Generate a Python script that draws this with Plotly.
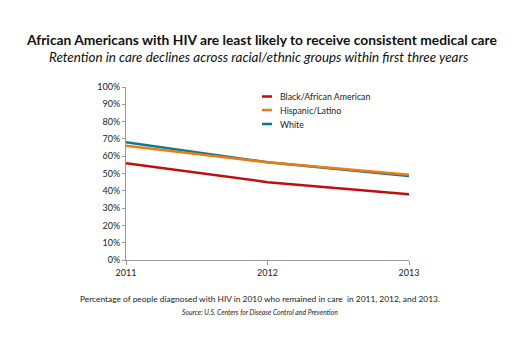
import plotly.graph_objects as go

years = [2011, 2012, 2013]
black = [56, 45, 38]
hispanic = [66, 56.5, 49.3]
white = [68, 56.5, 48.5]
y_ticks = list(range(0, 101, 10))
y_labels = [f"{v}%" for v in y_ticks]
series_names = ["Black/African American", "Hispanic/Latino", "White"]
series_colors = ["#C00D0D", "#F07A12", "#0F7A8C"]

FONT = "Lato"
W, H = 520, 346
L, R, T, B = 126, 111, 87, 86
plot_h = H - T - B
plot_w = W - L - R

def py2paper(py):
    return (H - B - py) / plot_h

def px2paper(px):
    return (px - L) / plot_w

fig = go.Figure()
fig.add_trace(go.Scatter(x=years, y=black, mode="lines", name=series_names[0],
                         line=dict(color=series_colors[0], width=2.5)))
fig.add_trace(go.Scatter(x=years, y=white, mode="lines", name=series_names[2],
                         line=dict(color=series_colors[2], width=2.5)))
fig.add_trace(go.Scatter(x=years, y=hispanic, mode="lines", name=series_names[1],
                         line=dict(color=series_colors[1], width=2.5)))

fig.update_layout(
    width=W, height=H,
    margin=dict(l=L, r=R, t=T, b=B),
    paper_bgcolor="white", plot_bgcolor="white",
    font=dict(family=FONT, size=9, color="#222"),
    showlegend=False,
    xaxis=dict(range=[2011, 2013], tickvals=years, ticktext=[str(y) for y in years],
               showgrid=False, zeroline=False, showline=True, linecolor="#999", linewidth=1,
               ticks="outside", ticklen=4, tickcolor="#999", tickfont=dict(size=9)),
    yaxis=dict(range=[0, 100], tickvals=y_ticks, ticktext=y_labels,
               showgrid=False, zeroline=False, showline=True, linecolor="#999", linewidth=1,
               ticks="outside", ticklen=3, tickcolor="#999", tickfont=dict(size=9)),
)

texts = [
    ("<b>African Americans with HIV are least likely to receive consistent medical care</b>", 261, 40, 13.8, "#111"),
    ("<i>Retention in care declines across racial/ethnic groups within first three years</i>", 259, 57, 13.4, "#111"),
    ("Percentage of people diagnosed with HIV in 2010 who remained in care  in 2011, 2012, and 2013.", 260, 299, 8.4, "#222"),
    ("<i>Source: U.S. Centers for Disease Control and Prevention</i>", 260, 312, 6.8, "#222"),
]
for t, px, py, sz, col in texts:
    fig.add_annotation(text=t, x=px2paper(px), y=py2paper(py), xref="paper", yref="paper",
                       showarrow=False, xanchor="center", yanchor="middle",
                       font=dict(size=sz, family=FONT, color=col))

# manual legend
leg_y = [96.5, 110, 124]
for name, col, ly in zip(series_names, series_colors, leg_y):
    fig.add_shape(type="line", xref="paper", yref="paper",
                  x0=px2paper(262), x1=px2paper(272), y0=py2paper(ly), y1=py2paper(ly),
                  line=dict(color=col, width=2.5))
    fig.add_annotation(text=name, x=px2paper(278), y=py2paper(ly), xref="paper", yref="paper",
                       showarrow=False, xanchor="left", yanchor="middle",
                       font=dict(size=8.8, family=FONT, color="#222"))

fig.write_html("out.html")
